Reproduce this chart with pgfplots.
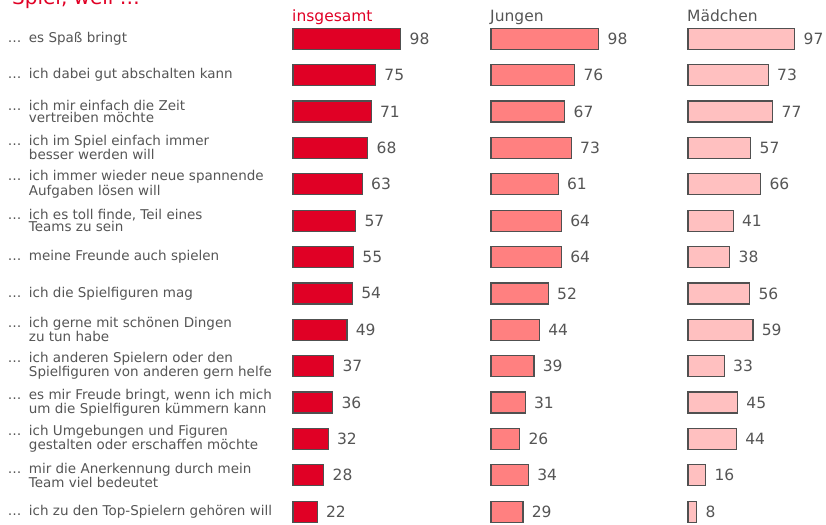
\documentclass[border=0pt]{standalone}
\usepackage{fontspec}
\setmainfont{DejaVu Sans}
\usepackage{pgfplots}
\pgfplotsset{compat=1.18}
\definecolor{cred}{HTML}{E00025}
\definecolor{cjung}{HTML}{FF8080}
\definecolor{cmaed}{HTML}{FFC0C0}
\definecolor{ctxt}{HTML}{555555}
\definecolor{cedge}{HTML}{505050}
\newcommand{\dd}{\makebox[21pt][l]{…}}
\newcommand{\ii}{\hspace*{21pt}}
\pgfplotsset{
 panel/.style={
  scale only axis, width=110pt, height=509.3pt,
  xmin=0, xmax=100, ymin=-0.5, ymax=13.5, y dir=reverse,
  enlargelimits=false,
  axis line style={draw=none}, tick style={draw=none},
  xtick=\empty, ytick=\empty, clip=false,
  xbar, bar width=21pt,
  point meta=x, nodes near coords,
  every node near coord/.append style={font=\fontsize{15.5}{15.5}\selectfont, text=ctxt, anchor=west, xshift=5pt},
  /pgf/number format/assume math mode=true,
  title style={at={(0,1)}, anchor=base west, inner sep=0pt, yshift=-6.5pt, xshift=-1pt, font=\fontsize{15.5}{15.5}\selectfont, text=ctxt},
 }
}
\begin{document}
\begin{tikzpicture}
\path[use as bounding box] (0,0) rectangle (826pt,524pt);
\node[anchor=base west, inner sep=0pt, text=cred, font=\fontsize{20}{20}\selectfont] at (12pt,519pt) {Spiel, weil …};
\begin{axis}[panel, at={(293pt,503.4pt)}, anchor=north west,
  title={insgesamt}, title style={text=cred},
  ytick={0,...,13},
  yticklabel style={anchor=west, xshift=-281pt, inner sep=0pt, align=left, text=ctxt, font=\fontsize{13.5}{12.3}\selectfont},
  yticklabels={
   {\dd es Spaß bringt},
   {\dd ich dabei gut abschalten kann},
   {\dd ich mir einfach die Zeit\\\ii vertreiben möchte},
   {\dd ich im Spiel einfach immer\\\ii besser werden will},
   {\dd ich immer wieder neue spannende\\\ii Aufgaben lösen will},
   {\dd ich es toll finde, Teil eines\\\ii Teams zu sein},
   {\dd meine Freunde auch spielen},
   {\dd ich die Spielfiguren mag},
   {\dd ich gerne mit schönen Dingen\\\ii zu tun habe},
   {\dd ich anderen Spielern oder den\\\ii Spielfiguren von anderen gern helfe},
   {\dd es mir Freude bringt, wenn ich mich\\\ii um die Spielfiguren kümmern kann},
   {\dd ich Umgebungen und Figuren\\\ii gestalten oder erschaffen möchte},
   {\dd mir die Anerkennung durch mein\\\ii Team viel bedeutet},
   {\dd ich zu den Top-Spielern gehören will}
  }]
\addplot[fill=cred, draw=cedge, line width=1.2pt] coordinates {
(98,0) (75,1) (71,2) (68,3) (63,4) (57,5) (55,6) (54,7) (49,8) (37,9) (36,10) (32,11) (28,12) (22,13)};
\end{axis}
\begin{axis}[panel, at={(491pt,503.4pt)}, anchor=north west, title={Jungen}]
\addplot[fill=cjung, draw=cedge, line width=1.2pt] coordinates {
(98,0) (76,1) (67,2) (73,3) (61,4) (64,5) (64,6) (52,7) (44,8) (39,9) (31,10) (26,11) (34,12) (29,13)};
\end{axis}
\begin{axis}[panel, at={(688pt,503.4pt)}, anchor=north west, title={Mädchen}]
\addplot[fill=cmaed, draw=cedge, line width=1.2pt] coordinates {
(97,0) (73,1) (77,2) (57,3) (66,4) (41,5) (38,6) (56,7) (59,8) (33,9) (45,10) (44,11) (16,12) (8,13)};
\end{axis}
\end{tikzpicture}
\end{document}
